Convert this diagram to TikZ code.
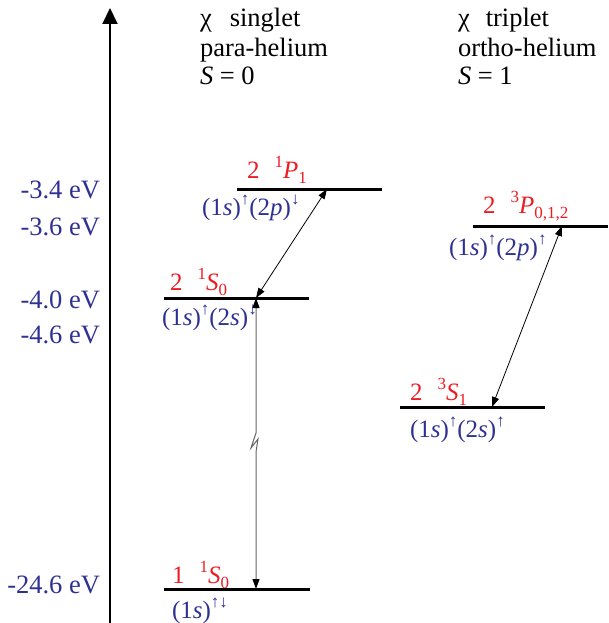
\documentclass[tikz,border=0pt]{standalone}
\usepackage{fontspec}
\setmainfont{Liberation Serif}
\usetikzlibrary{arrows.meta}
\definecolor{lvred}{RGB}{237,28,36}
\definecolor{lvblue}{RGB}{46,49,146}
\newcommand\supx[1]{\raisebox{0.42em}{\fontsize{17}{17}\selectfont #1}}
\newcommand\subx[1]{\raisebox{-0.22em}{\fontsize{17}{17}\selectfont #1}}
\begin{document}
\begin{tikzpicture}[x=1pt,y=-1pt,
  every node/.style={inner sep=0pt, outer sep=0pt, anchor=base west, font=\fontsize{25}{30}\selectfont},
  level/.style={line width=3pt},
  enlabel/.style={text=lvblue, anchor=base east, font=\fontsize{26.5}{30}\selectfont},
  term/.style={text=lvred},
  config/.style={text=lvblue},
  head/.style={text=black, font=\fontsize{26.5}{30}\selectfont},
  trans/.style={line width=0.8pt, {Triangle[length=10pt,width=7pt]}-{Triangle[length=10pt,width=7pt]}},
  vtrans/.style={line width=1pt, color=black!60, {Triangle[length=10pt,width=7pt,color=black]}-{Triangle[length=10pt,width=7pt,color=black]}}
]
\useasboundingbox (0,0) rectangle (608,623);
% axis
\coordinate (axb) at (110,623);
\coordinate (axt) at (110,8);
\draw[line width=2pt, -{Triangle[length=16pt,width=15pt]}] (axb) -- (axt);
% headers
\node[head] (h1) at (200,27) {χ\hspace{18pt}singlet};
\node[head] (h2) at (200,57) {para-helium};
\node[head] (h3) at (200,85) {\textit{S} = 0};
\node[head] (h4) at (458,27) {χ\hspace{16pt}triplet};
\node[head] (h5) at (458,57) {ortho-helium};
\node[head] (h6) at (458,85) {\textit{S} = 1};
% energy labels
\node[enlabel] (e1) at (100,198) {-3.4 eV};
\node[enlabel] (e2) at (100,235) {-3.6 eV};
\node[enlabel] (e3) at (100,308) {-4.0 eV};
\node[enlabel] (e4) at (100,343) {-4.6 eV};
\node[enlabel] (e5) at (100,593) {-24.6 eV};
% levels
\coordinate (p1l) at (237,189); \coordinate (p1r) at (382,189);
\coordinate (p3l) at (473,226); \coordinate (p3r) at (608,226);
\coordinate (s1l) at (164,298); \coordinate (s1r) at (309,298);
\coordinate (s3l) at (400,407); \coordinate (s3r) at (545,407);
\coordinate (g1l) at (164,589); \coordinate (g1r) at (310,589);
\draw[level] (p1l) -- (p1r);
\draw[level] (p3l) -- (p3r);
\draw[level] (s1l) -- (s1r);
\draw[level] (s3l) -- (s3r);
\draw[level] (g1l) -- (g1r);
% term labels
\node[term] (tp1) at (247,178) {2\hspace{15pt}\supx{1}\textit{P}\subx{1}};
\node[term] (tp3) at (483,213) {2\hspace{15pt}\supx{3}\textit{P}\subx{0,1,2}};
\node[term] (ts1) at (170,290) {2\hspace{15pt}\supx{1}\textit{S}\subx{0}};
\node[term] (ts3) at (410,400) {2\hspace{15pt}\supx{3}\textit{S}\subx{1}};
\node[term] (tg1) at (172,583) {1\hspace{15pt}\supx{1}\textit{S}\subx{0}};
% configurations
\node[config] (cp1) at (202,215) {(1\textit{s})\supx{↑}(2\textit{p})\supx{↓}};
\node[config] (cp3) at (449,255) {(1\textit{s})\supx{↑}(2\textit{p})\supx{↑}};
\node[config] (cs1) at (162,325) {(1\textit{s})\supx{↑}(2\textit{s})\supx{↓}};
\node[config] (cs3) at (410,437) {(1\textit{s})\supx{↑}(2\textit{s})\supx{↑}};
\node[config] (cg1) at (172,618) {(1\textit{s})\supx{↑↓}};
% transitions
\coordinate (a1) at (327,189); \coordinate (a2) at (256,298);
\coordinate (b1) at (562,226); \coordinate (b2) at (492,407);
\coordinate (v1) at (256,298); \coordinate (v2) at (256,589);
\draw[trans] (a1) -- (a2);
\draw[trans] (b1) -- (b2);
\draw[vtrans] (v1) -- (256,433) -- (251,448) -- (258,439) -- (256,452) -- (v2);
\end{tikzpicture}
\end{document}
